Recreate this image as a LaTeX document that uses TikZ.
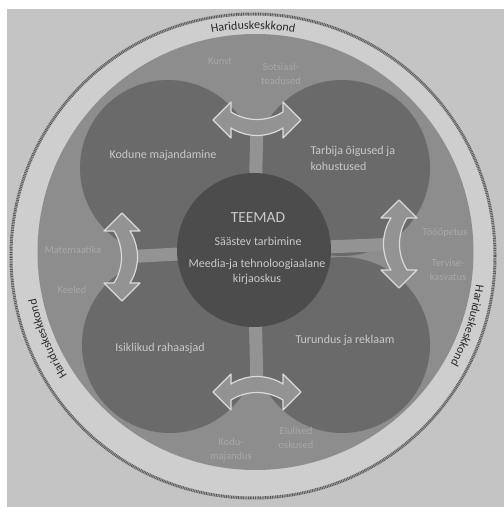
\documentclass[tikz,border=0pt]{standalone}
\usepackage{fontspec}
\setmainfont{Carlito}
\usetikzlibrary{decorations.text}

\definecolor{pagegray}{HTML}{C4C4C4}
\definecolor{ringgray}{HTML}{CECECE}
\definecolor{diskgray}{HTML}{8D8D8D}
\definecolor{petalgray}{HTML}{6A6A6A}
\definecolor{hubgray}{HTML}{4C4C4C}
\definecolor{arrowgray}{HTML}{939393}
\definecolor{edgegray}{HTML}{DADADA}
\definecolor{subgray}{HTML}{A9A9A9}
\definecolor{paletext}{HTML}{C9C9C9}
\definecolor{ringtext}{HTML}{2A2A2A}
\definecolor{bordergray}{HTML}{5C5C5C}

\begin{document}
\begin{tikzpicture}
	[
		x=1pt, y=1pt,
		petal/.style={circle, fill=petalgray, minimum size=176pt, inner sep=0pt},
		hub/.style={circle, fill=hubgray, minimum size=154pt, inner sep=0pt},
		petaltext/.style={text=paletext, font=\fontsize{12}{16}\selectfont, align=center},
		hubtext/.style={text=paletext, font=\fontsize{12}{15}\selectfont, align=center},
		subject/.style={text=subgray, font=\fontsize{10.5}{14}\selectfont, align=center},
		stem/.style={draw=arrowgray, line width=13pt},
		twoway/.pic={
			\path [fill=arrowgray, draw=edgegray, line width=1.2pt, line join=round]
				(-26, 8) .. controls (-10, -2) and (10, -2) .. (26, 8)
				-- (26, 18) -- (44, 0) -- (26, -18) -- (26, -8)
				.. controls (10, -18) and (-10, -18) .. (-26, -8)
				-- (-26, -18) -- (-44, 0) -- (-26, 18) -- cycle;
		},
		ringlabel/.style={postaction={decorate}, decoration={text along path, text align=center,
			text={|\fontsize{12}{14}\selectfont\color{ringtext}|Hariduskeskkond}}}
	]

	\useasboundingbox (0, 0) rectangle (504, 507);
	\fill [white] (0, 0) rectangle (504, 507);
	\fill [pagegray] (7, 0) rectangle (504, 498);

	\coordinate (ringc) at (253, 251);
	\coordinate (hubc)  at (254, 257);

	\node (outer) at (ringc) [circle, fill=ringgray, minimum size=484pt, inner sep=0pt,
		draw=bordergray, line width=3pt, dash pattern=on 1pt off 0.7pt] {};
	\node (disk)  at (255.5, 255) [circle, fill=diskgray, minimum size=436pt, inner sep=0pt] {};

	\path [ringlabel] ([shift={(112:227)}]ringc) arc [start angle=112, end angle=68, radius=227];
	\path [ringlabel] ([shift={(224:221)}]ringc) arc [start angle=224, end angle=180, radius=221];
	\path [ringlabel] ([shift={(4:225)}]ringc) arc [start angle=4, end angle=-40, radius=225];

	\node (pkodune)   at (168, 339) [petal] {};
	\node (ptarbija)  at (342, 339) [petal] {};
	\node (pisiklik)  at (170, 162) [petal] {};
	\node (pturundus) at (342, 162) [petal] {};

	\coordinate (atop)    at (257, 387);
	\coordinate (abottom) at (257, 115);
	\coordinate (aleft)   at (122, 250);
	\coordinate (aright)  at (399, 263);

	\draw [stem] (atop) -- (hubc);
	\draw [stem] (abottom) -- (hubc);
	\draw [stem] (aleft) -- (hubc);
	\draw [stem] (aright) -- (hubc);

	\pic at (atop) {twoway};
	\pic [rotate=180] at (abottom) {twoway};
	\pic [rotate=90] at (aleft) {twoway};
	\pic [rotate=-90] at (aright) {twoway};

	\node (hub) at (hubc) [hub] {};

	\node (kunst)     at (220, 446)   [subject] {Kunst};
	\node (sotsiaal)  at (281, 433.5) [subject] {Sotsiaal-\\teadused};
	\node (matem)     at (73, 257)    [subject] {Matemaatika};
	\node (keeled)    at (72, 217)    [subject] {Keeled};
	\node (tooopetus) at (445, 274)   [subject] {Tööõpetus};
	\node (tervis)    at (448, 237)   [subject] {Tervise-\\kasvatus};
	\node (kodu)      at (231, 57)    [subject] {Kodu-\\majandus};
	\node (elulised)  at (296, 69.5)  [subject] {Elulised\\oskused};

	\node (kodune)   at (163, 352)   [petaltext] {Kodune majandamine};
	\node (tarbija)  at (307, 348.5) [petaltext, anchor=west, align=left] {Tarbija õigused ja\\kohustused};
	\node (isiklik)  at (160, 159)   [petaltext] {Isiklikud rahaasjad};
	\node (turundus) at (345, 167)   [petaltext] {Turundus ja reklaam};

	\node (teemad)  at (258, 289)   [hubtext, font=\fontsize{15.5}{18}\selectfont] {TEEMAD};
	\node (saastev) at (258, 266)   [hubtext] {Säästev tarbimine};
	\node (meedia)  at (257, 235.5) [hubtext] {Meedia-ja tehnoloogiaalane\\kirjaoskus};
\end{tikzpicture}
\end{document}
